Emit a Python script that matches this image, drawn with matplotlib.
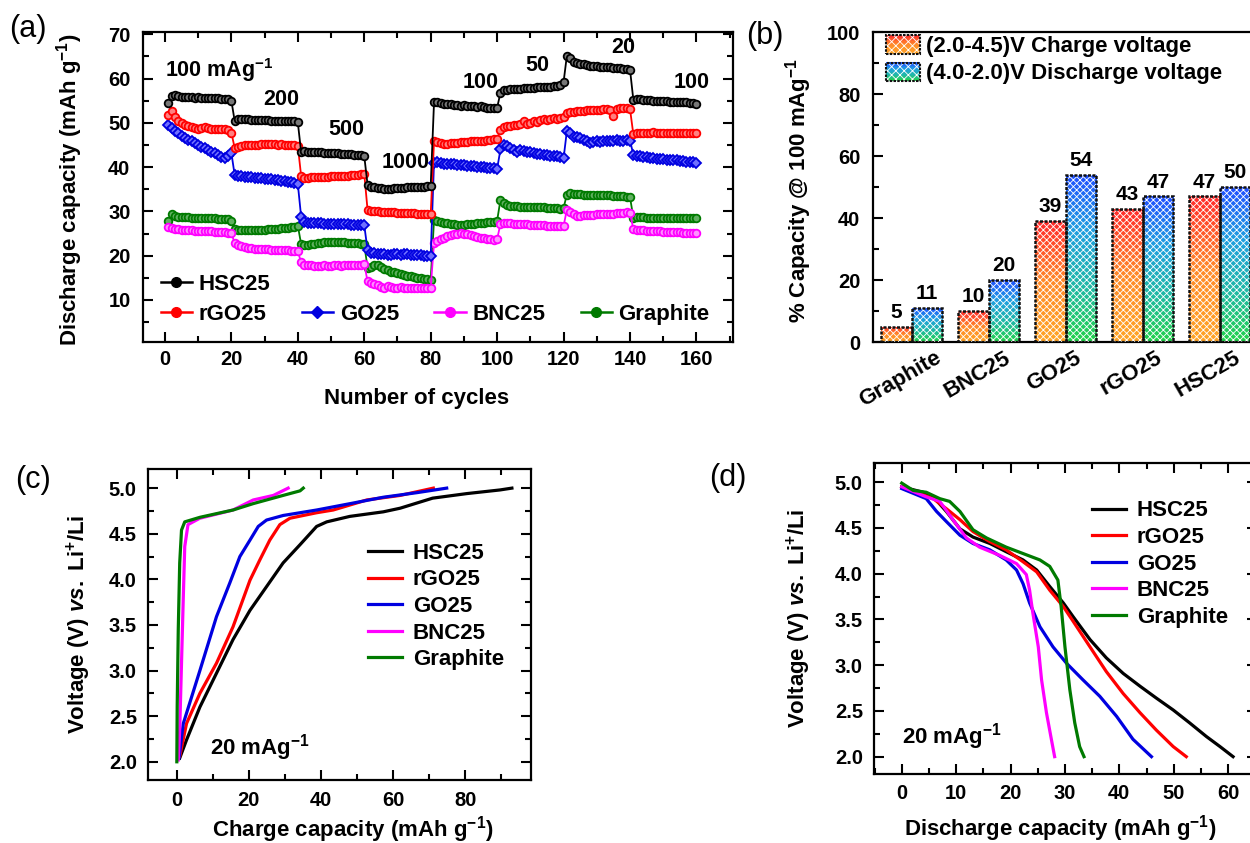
import numpy as np
import matplotlib
matplotlib.use("Agg")
import matplotlib.pyplot as plt
from matplotlib.colors import LinearSegmentedColormap
from matplotlib.patches import Rectangle
from matplotlib.lines import Line2D
from matplotlib.legend_handler import HandlerBase
from matplotlib.ticker import MultipleLocator, FormatStrFormatter

plt.rcParams["font.family"] = ["Liberation Sans", "DejaVu Sans"]
plt.rcParams["font.weight"] = "bold"
plt.rcParams["axes.labelweight"] = "bold"
plt.rcParams["mathtext.fontset"] = "custom"
plt.rcParams["mathtext.rm"] = "Liberation Sans:bold"
plt.rcParams["mathtext.bf"] = "Liberation Sans:bold"
plt.rcParams["mathtext.it"] = "Liberation Sans:italic:bold"
plt.rcParams["mathtext.default"] = "bf"
plt.rcParams["hatch.linewidth"] = 0.6

# ---------------- (a) rate capability, cycles 1-160 ----------------
cycles = list(range(1, 161))

hsc25 = [
    54.5, 56.0, 56.2, 56.0, 55.9, 55.9, 55.8, 55.8, 55.7, 55.8, 55.7, 55.6, 55.6, 55.5, 55.6, 55.5, 55.4, 55.4, 55.3, 55.0,
    50.4, 50.9, 50.9, 50.8, 50.8, 50.7, 50.7, 50.7, 50.6, 50.6, 50.6, 50.5, 50.5, 50.5, 50.4, 50.4, 50.4, 50.3, 50.3, 50.1,
    43.4, 43.6, 43.5, 43.4, 43.4, 43.3, 43.3, 43.2, 43.2, 43.2, 43.1, 43.1, 43.0, 43.0, 42.9, 42.9, 42.8, 42.8, 42.7, 42.5,
    36.0, 35.6, 35.4, 35.3, 35.2, 35.1, 35.0, 35.1, 35.2, 35.2, 35.3, 35.3, 35.4, 35.4, 35.5, 35.5, 35.6, 35.6, 35.7, 35.8,
    54.6, 54.8, 54.5, 54.3, 54.2, 54.2, 54.1, 54.0, 53.9, 54.0, 53.8, 53.8, 53.7, 53.6, 53.7, 53.5, 53.4, 53.4, 53.3, 53.4,
    56.8, 57.3, 57.5, 57.6, 57.6, 57.7, 57.7, 57.8, 57.8, 57.9, 57.9, 58.0, 58.0, 58.1, 58.1, 58.2, 58.3, 58.4, 58.6, 59.2,
    65.2, 64.6, 63.8, 63.5, 63.3, 63.2, 63.0, 62.9, 62.8, 62.9, 62.7, 62.6, 62.7, 62.5, 62.4, 62.3, 62.3, 62.2, 62.1, 62.0,
    55.2, 55.4, 55.3, 55.2, 55.1, 55.1, 55.0, 55.0, 55.0, 54.9, 54.9, 54.8, 54.8, 54.7, 54.7, 54.6, 54.6, 54.5, 54.4, 54.3,
]
rgo25 = [
    51.8, 52.6, 51.2, 50.5, 50.0, 49.6, 49.3, 49.0, 48.8, 48.7, 48.9, 49.0, 48.8, 48.7, 48.6, 48.6, 48.5, 48.5, 48.4, 47.8,
    44.3, 44.6, 44.8, 44.9, 45.0, 45.0, 45.1, 45.1, 45.2, 45.2, 45.3, 45.2, 45.2, 45.1, 45.2, 45.1, 45.0, 45.0, 44.9, 44.8,
    38.0, 37.6, 37.6, 37.7, 37.7, 37.7, 37.8, 37.8, 37.8, 37.9, 37.9, 38.0, 38.0, 38.1, 38.1, 38.2, 38.3, 38.3, 38.4, 38.5,
    30.3, 30.1, 30.0, 30.0, 29.9, 29.9, 29.8, 29.8, 29.8, 29.7, 29.7, 29.7, 29.6, 29.6, 29.6, 29.5, 29.5, 29.4, 29.4, 29.3,
    45.8, 45.6, 45.4, 45.3, 45.3, 45.4, 45.5, 45.5, 45.6, 45.7, 45.7, 45.8, 45.9, 45.9, 46.0, 46.0, 46.1, 46.2, 46.3, 46.4,
    48.4, 49.0, 49.3, 49.2, 49.5, 49.4, 49.7, 50.3, 49.8, 50.0, 50.4, 50.2, 50.6, 50.8, 50.6, 50.9, 51.0, 50.8, 51.1, 51.3,
    52.2, 52.5, 52.4, 52.6, 52.7, 52.6, 52.8, 52.9, 52.8, 53.0, 53.0, 53.1, 53.1, 52.9, 51.6, 53.2, 53.3, 53.4, 53.3, 53.1,
    47.4, 47.7, 47.8, 47.8, 47.8, 47.8, 47.9, 47.8, 47.8, 47.8, 47.8, 47.8, 47.8, 47.8, 47.7, 47.8, 47.8, 47.7, 47.7, 47.7,
]
go25 = [
    49.5, 48.8, 48.2, 47.6, 47.1, 46.6, 46.2, 45.8, 45.4, 45.0, 44.6, 44.3, 43.9, 43.5, 43.1, 42.7, 42.3, 42.0, 42.6, 43.2,
    38.2, 38.0, 37.9, 37.8, 37.8, 37.7, 37.6, 37.5, 37.5, 37.4, 37.3, 37.2, 37.1, 37.0, 36.9, 36.8, 36.7, 36.6, 36.5, 36.2,
    28.8, 27.6, 27.4, 27.4, 27.3, 27.3, 27.3, 27.2, 27.2, 27.2, 27.2, 27.1, 27.1, 27.1, 27.1, 27.0, 27.0, 27.0, 27.0, 26.9,
    21.2, 20.7, 20.5, 20.4, 20.3, 20.3, 20.2, 20.2, 20.3, 20.3, 20.2, 20.3, 20.3, 20.2, 20.1, 20.2, 20.1, 20.0, 20.0, 19.9,
    41.0, 41.1, 40.9, 40.8, 40.7, 40.7, 40.6, 40.5, 40.5, 40.4, 40.3, 40.3, 40.2, 40.1, 40.0, 40.0, 39.9, 39.8, 39.7, 39.6,
    44.0, 45.0, 44.8, 44.3, 43.8, 43.5, 43.9, 43.6, 43.4, 43.3, 43.2, 43.0, 42.9, 42.8, 42.7, 42.6, 42.5, 42.4, 42.3, 42.0,
    48.2, 47.6, 46.9, 46.8, 46.5, 46.2, 45.8, 45.5, 45.6, 45.8, 45.7, 45.9, 45.8, 45.9, 46.0, 46.1, 45.9, 45.8, 46.2, 46.0,
    42.8, 42.5, 42.4, 42.3, 42.2, 42.1, 42.0, 41.9, 41.8, 41.8, 41.7, 41.6, 41.5, 41.5, 41.4, 41.3, 41.2, 41.2, 41.1, 41.0,
]
bnc25 = [
    26.5, 26.2, 26.0, 26.0, 25.9, 25.8, 25.7, 25.7, 25.6, 25.6, 25.6, 25.5, 25.5, 25.5, 25.4, 25.4, 25.3, 25.3, 25.2, 25.1,
    22.8, 22.4, 22.1, 21.9, 21.8, 21.7, 21.6, 21.5, 21.5, 21.4, 21.4, 21.3, 21.3, 21.2, 21.3, 21.2, 21.2, 21.1, 21.1, 21.0,
    18.5, 17.9, 17.8, 17.8, 17.7, 17.7, 17.7, 17.8, 17.7, 17.7, 17.8, 17.8, 17.7, 17.8, 17.9, 17.8, 17.9, 18.0, 18.0, 18.1,
    14.2, 13.8, 13.5, 13.3, 13.0, 12.8, 13.2, 13.0, 12.8, 12.7, 12.9, 12.8, 12.7, 12.6, 12.8, 12.7, 12.6, 12.7, 12.6, 12.7,
    22.8, 23.4, 23.8, 24.1, 24.4, 24.6, 24.8, 25.0, 25.1, 25.0, 24.8, 24.6, 24.5, 24.3, 24.1, 24.0, 23.8, 23.7, 23.6, 23.7,
    27.2, 27.4, 27.3, 27.3, 27.2, 27.2, 27.1, 27.1, 27.1, 27.0, 27.0, 26.9, 26.9, 26.9, 26.8, 26.8, 26.7, 26.7, 26.6, 26.7,
    30.4, 29.8, 29.3, 29.0, 29.0, 29.1, 29.1, 29.2, 29.2, 29.3, 29.3, 29.4, 29.4, 29.5, 29.5, 29.6, 29.6, 29.7, 29.8, 29.6,
    26.0, 25.8, 25.7, 25.7, 25.6, 25.6, 25.5, 25.5, 25.5, 25.4, 25.4, 25.4, 25.3, 25.3, 25.3, 25.2, 25.2, 25.2, 25.1, 25.1,
]
graphite = [
    27.8, 29.5, 29.0, 28.8, 28.8, 28.7, 28.7, 28.6, 28.6, 28.6, 28.5, 28.5, 28.5, 28.4, 28.4, 28.3, 28.3, 28.3, 28.2, 27.9,
    26.0, 25.8, 25.7, 25.7, 25.7, 25.8, 25.8, 25.8, 25.9, 25.9, 26.0, 26.0, 26.1, 26.1, 26.2, 26.2, 26.3, 26.4, 26.5, 26.8,
    22.6, 22.4, 22.5, 22.6, 22.7, 22.8, 22.9, 23.0, 23.0, 23.1, 23.1, 23.0, 23.0, 23.0, 22.9, 22.9, 22.8, 22.8, 22.7, 22.6,
    17.2, 17.5, 18.0, 17.8, 17.5, 17.0, 16.7, 16.4, 16.2, 16.0, 15.8, 15.6, 15.4, 15.3, 15.1, 15.0, 14.9, 14.8, 14.7, 14.6,
    28.0, 27.8, 27.6, 27.4, 27.3, 27.2, 27.1, 27.0, 27.0, 27.0, 27.1, 27.1, 27.2, 27.3, 27.3, 27.4, 27.5, 27.6, 27.7, 27.9,
    32.6, 31.9, 31.5, 31.3, 31.2, 31.2, 31.1, 31.1, 31.0, 31.0, 31.0, 30.9, 30.9, 30.9, 30.8, 30.8, 30.7, 30.7, 30.6, 30.8,
    33.8, 34.1, 34.0, 33.9, 33.9, 33.8, 33.8, 33.8, 33.7, 33.7, 33.7, 33.6, 33.6, 33.6, 33.5, 33.5, 33.4, 33.4, 33.3, 33.2,
    28.6, 28.8, 28.7, 28.7, 28.6, 28.6, 28.6, 28.6, 28.5, 28.5, 28.5, 28.5, 28.5, 28.5, 28.4, 28.4, 28.4, 28.4, 28.4, 28.5,
]

rate_labels = ["100 mAg$^{-1}$", "200", "500", "1000", "100", "50", "20", "100"]
rate_label_x = [0, 35, 54.5, 72.5, 95, 112, 138, 158.5]
rate_label_y = [62, 55.3, 48.5, 41, 59, 63, 67, 59]

# ---------------- (b) capacity retention ----------------
materials = ["Graphite", "BNC25", "GO25", "rGO25", "HSC25"]
charge_pct = [5, 10, 39, 43, 47]
discharge_pct = [11, 20, 54, 47, 50]

# ---------------- (c) charge curves at 20 mA/g ----------------
c_hsc_cap = [0.8, 2.7, 6.4, 11, 15.6, 20.3, 24.9, 29.5, 34.2, 38.8, 41.6, 48, 57.3, 62, 71, 80.5, 89.7, 93]
c_hsc_v = [2.04, 2.24, 2.6, 2.97, 3.34, 3.66, 3.92, 4.18, 4.38, 4.58, 4.63, 4.69, 4.74, 4.78, 4.89, 4.94, 4.98, 5.0]
c_rgo_cap = [0.8, 2.7, 6.4, 11, 15.6, 20.3, 23, 25.8, 28.6, 31.4, 38.8, 43.4, 52.7, 62, 71.2]
c_rgo_v = [2.06, 2.42, 2.75, 3.08, 3.48, 3.99, 4.21, 4.43, 4.6, 4.67, 4.73, 4.76, 4.87, 4.92, 5.0]
c_go_cap = [0.6, 1.8, 6.4, 11, 14.7, 17.5, 20.3, 22.6, 24.9, 29.5, 38.8, 48.1, 57.3, 66.6, 74.9]
c_go_v = [2.04, 2.42, 3.0, 3.59, 3.96, 4.25, 4.43, 4.58, 4.65, 4.7, 4.76, 4.83, 4.9, 4.95, 5.0]
c_bnc_cap = [0.4, 0.8, 1.3, 1.8, 2.2, 3.1, 6.4, 15.6, 21.2, 26.8, 30.9]
c_bnc_v = [2.02, 2.35, 3.08, 3.81, 4.36, 4.6, 4.67, 4.76, 4.87, 4.92, 5.0]
c_gra_cap = [0, 0.1, 0.4, 0.8, 1.3, 2.2, 6.4, 15.6, 21.2, 29.5, 34.2, 35.1]
c_gra_v = [2.0, 2.6, 3.45, 4.18, 4.54, 4.63, 4.68, 4.76, 4.83, 4.92, 4.97, 5.0]

# ---------------- (d) discharge curves at 20 mA/g ----------------
d_hsc_cap = [0, 3.9, 5.8, 8.2, 10.7, 13.1, 16.2, 19.2, 22.3, 24.8, 27.2, 29.7, 31.5, 34.6, 37.6, 40.7, 43.8, 46.8, 49.9, 52.9, 56, 58.5, 60.9]
d_hsc_v = [4.95, 4.89, 4.84, 4.68, 4.49, 4.4, 4.33, 4.24, 4.15, 4.04, 3.86, 3.68, 3.53, 3.28, 3.08, 2.91, 2.77, 2.64, 2.51, 2.37, 2.22, 2.11, 2.0]
d_rgo_cap = [0, 5.8, 8.2, 10.7, 13.1, 16.2, 19.2, 22.3, 24.8, 27.2, 29.7, 31.5, 34.6, 37.6, 40.7, 43.8, 46.8, 49.9, 52.3]
d_rgo_v = [4.95, 4.82, 4.71, 4.59, 4.46, 4.35, 4.26, 4.13, 4.02, 3.82, 3.64, 3.48, 3.2, 2.93, 2.69, 2.48, 2.29, 2.11, 2.0]
d_go_cap = [0, 4.5, 6.4, 8.2, 10.7, 13.1, 16.2, 19.2, 21.1, 22.3, 23.5, 25.4, 27.8, 30.3, 33.3, 36.4, 39.5, 42.5, 45.9]
d_go_v = [4.93, 4.82, 4.68, 4.57, 4.42, 4.33, 4.26, 4.15, 4.04, 3.89, 3.68, 3.42, 3.2, 3.02, 2.84, 2.66, 2.44, 2.19, 2.0]
d_bnc_cap = [0, 4.5, 7.0, 9.4, 11.9, 14.3, 18, 21.1, 22.9, 23.5, 24.1, 25.1, 25.7, 26.6, 27.5, 28.1]
d_bnc_v = [4.95, 4.84, 4.79, 4.59, 4.39, 4.29, 4.2, 4.11, 3.99, 3.82, 3.57, 3.2, 2.84, 2.48, 2.19, 2.0]
d_gra_cap = [0, 2.1, 4.5, 7.0, 8.8, 10.7, 13.1, 15.6, 19.2, 22.3, 25.4, 27.2, 28.7, 29.3, 30, 30.9, 31.8, 32.7, 33.5]
d_gra_v = [4.99, 4.91, 4.89, 4.82, 4.79, 4.68, 4.48, 4.39, 4.29, 4.22, 4.15, 4.08, 3.93, 3.64, 3.2, 2.73, 2.37, 2.11, 2.0]

names = ["HSC25", "rGO25", "GO25", "BNC25", "Graphite"]
colors = ["#000000", "#ff0000", "#0000e0", "#ff00ff", "#007a00"]
lighter = ["#777777", "#ff8080", "#7070ff", "#ff90ff", "#60b060"]

TICK = 14.5
LAB = 16


def style_axes(ax, xpad, ypad):
    ax.tick_params(which="both", direction="in", top=True, right=True,
                   width=1.5, labelsize=TICK)
    ax.tick_params(which="major", length=7)
    ax.tick_params(which="minor", length=4)
    ax.tick_params(axis="x", pad=xpad)
    ax.tick_params(axis="y", pad=ypad)
    for s in ax.spines.values():
        s.set_linewidth(1.6)


fig = plt.figure(figsize=(12.5, 8.43), dpi=100)

# ---------------- panel (a) ----------------
ax1 = fig.add_axes([0.1144, 0.5943, 0.472, 0.3677])
series_a = [hsc25, rgo25, go25, bnc25, graphite]
markers = ["o", "o", "D", "o", "o"]
handles_a = []
for vals, name, c, lc, mk in reversed(list(zip(series_a, names, colors, lighter, markers))):
    ax1.plot(cycles, vals, color=c, lw=1.3, marker=mk, ms=5.5 if mk == "o" else 4.8,
             mfc=lc, mec=c, mew=1.3)
for name, c, lc, mk in zip(names, colors, lighter, markers):
    handles_a.append(Line2D([], [], color=c, lw=1.8, marker=mk, ms=7 if mk == "o" else 6,
                            mfc=c, mec=c, label=name))

for txt, x, y in zip(rate_labels, rate_label_x, rate_label_y):
    ax1.text(x, y, txt, fontsize=15.5, fontweight="bold", ha="left" if x == 0 else "center",
             va="center")

ax1.set_xlim(-6.6, 171)
ax1.set_ylim(0.5, 70.5)
ax1.set_xticks([0, 20, 40, 60, 80, 100, 120, 140, 160])
ax1.xaxis.set_minor_locator(MultipleLocator(10))
ax1.set_yticks([10, 20, 30, 40, 50, 60, 70])
ax1.yaxis.set_minor_locator(MultipleLocator(5))
style_axes(ax1, 6, 9)
ax1.set_xlabel("Number of cycles", fontsize=LAB)
ax1.xaxis.set_label_coords(0.464, -0.148)
ax1.set_ylabel("Discharge capacity (mAh g$^{-1}$)", fontsize=LAB)
ax1.yaxis.set_label_coords(-0.098, 0.49)

leg_a1 = ax1.legend(handles=handles_a[:1], loc="center left", bbox_to_anchor=(0.03, 0.185),
                    frameon=False, fontsize=16, handlelength=1.4, handletextpad=0.3,
                    borderpad=0, borderaxespad=0)
ax1.add_artist(leg_a1)
ax1.legend(handles=handles_a[1:], loc="center left", bbox_to_anchor=(0.03, 0.088),
           frameon=False, fontsize=16, ncol=4, handlelength=1.4, handletextpad=0.3,
           columnspacing=1.6, borderpad=0, borderaxespad=0)

# ---------------- panel (b) ----------------
ax2 = fig.add_axes([0.6984, 0.5943, 0.308, 0.3677])
orange_cmap = LinearSegmentedColormap.from_list("org", ["#ffa526", "#ff8a2a", "#ff2a2a"])
blue_cmap = LinearSegmentedColormap.from_list("blu", ["#22d24a", "#1fb8a8", "#1f9fe0", "#1f4fff"])

xpos = np.arange(len(materials))
bw = 0.4


def gradient_bars(ax, xs, heights, cmap):
    base = ax.bar(xs, heights, bw, color="none", edgecolor="white", hatch="xxxxx",
                  linewidth=0, zorder=3)
    grad = np.linspace(1, 0, 128).reshape(-1, 1)
    for b in base:
        x0, w, h = b.get_x(), b.get_width(), b.get_height()
        im = ax.imshow(grad, cmap=cmap, vmin=0, vmax=1, aspect="auto", origin="upper",
                       extent=[x0, x0 + w, 0, h], zorder=2, interpolation="bicubic")
        im.set_clip_path(b)
    ax.bar(xs, heights, bw, color="none", edgecolor="#111111", linewidth=1.8,
           linestyle=(0, (1.2, 0.6)), zorder=4)


gradient_bars(ax2, xpos - bw / 2, charge_pct, orange_cmap)
gradient_bars(ax2, xpos + bw / 2, discharge_pct, blue_cmap)
for x, v in zip(xpos - bw / 2, charge_pct):
    ax2.text(x, v + 1.5, str(v), ha="center", va="bottom", fontsize=15, fontweight="bold")
for x, v in zip(xpos + bw / 2, discharge_pct):
    ax2.text(x, v + 1.5, str(v), ha="center", va="bottom", fontsize=15, fontweight="bold")

ax2.set_xlim(-0.5, 4.5)
ax2.set_ylim(0, 100)
ax2.set_xticks(xpos - 0.15)
ax2.set_xticklabels(materials, rotation=30, ha="center", fontsize=16)
ax2.yaxis.set_major_locator(MultipleLocator(20))
ax2.yaxis.set_minor_locator(MultipleLocator(10))
ax2.tick_params(axis="y", which="both", direction="in", width=1.5, labelsize=TICK, pad=9)
ax2.tick_params(axis="y", which="major", length=7)
ax2.tick_params(axis="y", which="minor", length=4)
ax2.tick_params(axis="x", length=0, pad=4)
for s in ax2.spines.values():
    s.set_linewidth(1.6)
ax2.set_ylabel("% Capacity @ 100 mAg$^{-1}$", fontsize=LAB)
ax2.yaxis.set_label_coords(-0.152, 0.49)


class HandlerGradient(HandlerBase):
    def __init__(self, cmap):
        super().__init__()
        self.cmap = cmap

    def create_artists(self, legend, orig_handle, xdescent, ydescent, width, height,
                       fontsize, trans):
        arts = []
        n = 12
        for i in range(n):
            arts.append(Rectangle((-xdescent, -ydescent + height * i / n), width, height / n + 0.3,
                                  facecolor=self.cmap((i + 0.5) / n),
                                  edgecolor="none", transform=trans))
        arts.append(Rectangle((-xdescent, -ydescent), width, height, facecolor="none",
                              edgecolor="white", hatch="xxxx", linewidth=0, transform=trans))
        arts.append(Rectangle((-xdescent, -ydescent), width, height, facecolor="none",
                              edgecolor="#111111", linewidth=1.5, linestyle=(0, (1.2, 0.6)),
                              transform=trans))
        return arts


h_charge = Rectangle((0, 0), 1, 1, label="(2.0-4.5)V Charge voltage")
h_dis = Rectangle((0, 0), 1, 1, label="(4.0-2.0)V Discharge voltage")
ax2.legend(handles=[h_charge, h_dis], loc="upper left", bbox_to_anchor=(0.035, 0.99),
           frameon=False, fontsize=16, handlelength=1.5, handleheight=0.9,
           handletextpad=0.3, labelspacing=0.25, borderpad=0, borderaxespad=0,
           handler_map={h_charge: HandlerGradient(orange_cmap), h_dis: HandlerGradient(blue_cmap)})

# ---------------- panel (c) ----------------
ax3 = fig.add_axes([0.1184, 0.0747, 0.3064, 0.369])
curves_c = [(c_hsc_cap, c_hsc_v), (c_rgo_cap, c_rgo_v), (c_go_cap, c_go_v),
            (c_bnc_cap, c_bnc_v), (c_gra_cap, c_gra_v)]
for (xs, ys), name, c in zip(curves_c, names, colors):
    ax3.plot(xs, ys, color=c, lw=2.3, label=name)
ax3.text(9.2, 2.16, "20 mAg$^{-1}$", fontsize=16, fontweight="bold", ha="left", va="center")
ax3.set_xlim(-8, 98.3)
ax3.set_ylim(1.8, 5.21)
ax3.xaxis.set_major_locator(MultipleLocator(20))
ax3.xaxis.set_minor_locator(MultipleLocator(10))
ax3.yaxis.set_major_locator(MultipleLocator(0.5))
ax3.yaxis.set_minor_locator(MultipleLocator(0.25))
ax3.yaxis.set_major_formatter(FormatStrFormatter("%.1f"))
style_axes(ax3, 8, 8)
ax3.set_xlabel("Charge capacity (mAh g$^{-1}$)", fontsize=LAB)
ax3.xaxis.set_label_coords(0.535, -0.108)
ax3.set_ylabel("Voltage (V) $\\mathit{vs.}$ Li$^{+}$/Li", fontsize=LAB)
ax3.yaxis.set_label_coords(-0.143, 0.5)
ax3.legend(loc="center left", bbox_to_anchor=(0.575, 0.558), frameon=False, fontsize=16,
           handlelength=1.5, handletextpad=0.5, labelspacing=0.25, borderpad=0, borderaxespad=0)

# ---------------- panel (d) ----------------
ax4 = fig.add_axes([0.6992, 0.0818, 0.3064, 0.369])
curves_d = [(d_hsc_cap, d_hsc_v), (d_rgo_cap, d_rgo_v), (d_go_cap, d_go_v),
            (d_bnc_cap, d_bnc_v), (d_gra_cap, d_gra_v)]
for (xs, ys), name, c in zip(curves_d, names, colors):
    ax4.plot(xs, ys, color=c, lw=2.3, label=name)
ax4.text(0, 2.22, "20 mAg$^{-1}$", fontsize=16, fontweight="bold", ha="left", va="center")
ax4.set_xlim(-5.1, 65.3)
ax4.set_ylim(1.81, 5.21)
ax4.xaxis.set_major_locator(MultipleLocator(10))
ax4.xaxis.set_minor_locator(MultipleLocator(5))
ax4.yaxis.set_major_locator(MultipleLocator(0.5))
ax4.yaxis.set_minor_locator(MultipleLocator(0.25))
ax4.yaxis.set_major_formatter(FormatStrFormatter("%.1f"))
style_axes(ax4, 7, 8)
ax4.set_xlabel("Discharge capacity (mAh g$^{-1}$)", fontsize=LAB)
ax4.xaxis.set_label_coords(0.486, -0.125)
ax4.set_ylabel("Voltage (V) $\\mathit{vs.}$ Li$^{+}$/Li", fontsize=LAB)
ax4.yaxis.set_label_coords(-0.16, 0.5)
ax4.legend(loc="center left", bbox_to_anchor=(0.57, 0.675), frameon=False, fontsize=16,
           handlelength=1.5, handletextpad=0.5, labelspacing=0.25, borderpad=0, borderaxespad=0)

# panel letters
for lab, x, y in [("(a)", 28, 29), ("(b)", 765, 36), ("(c)", 33, 480), ("(d)", 728, 478)]:
    fig.text(x / 1250, 1 - y / 843, lab, fontsize=22, fontweight="normal",
             ha="center", va="center")

fig.savefig("out.png", dpi=100)
